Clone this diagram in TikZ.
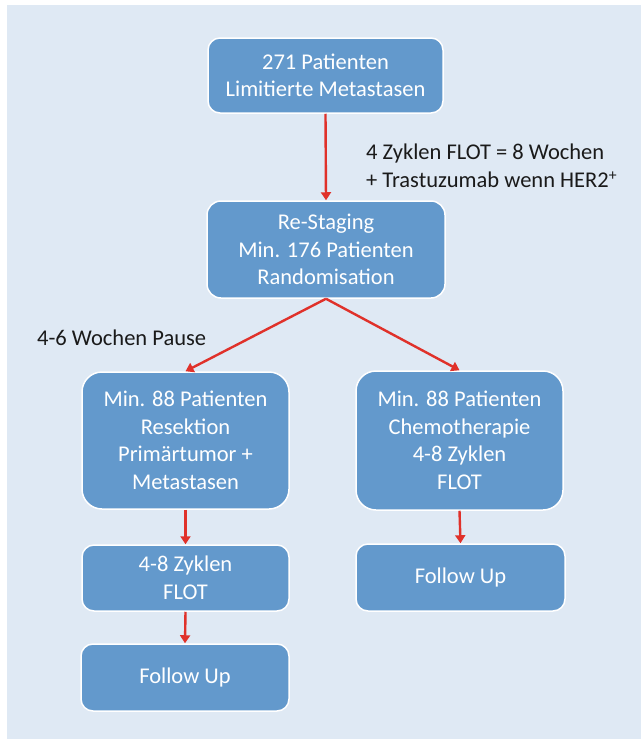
\documentclass[tikz,border=0pt]{standalone}
\usepackage{fontspec}
\setmainfont{Carlito}
\usetikzlibrary{arrows.meta}
\definecolor{panel}{HTML}{DFE9F4}
\definecolor{boxblue}{HTML}{6399CC}
\definecolor{arrred}{HTML}{E0312A}
\definecolor{labtext}{HTML}{1A1A1A}
\tikzset{
  flowbox/.style={draw=white, line width=1.5pt, fill=boxblue, text=white, align=center,
    inner sep=0pt, font=\fontsize{22.5}{27.5}\selectfont},
  flowarrow/.style={draw=arrred, line width=2.4pt, -{Triangle[length=8pt,width=10pt]}},
  lab/.style={text=labtext, align=left, anchor=west, inner sep=0pt, font=\fontsize{22.5}{28}\selectfont}
}
\begin{document}
\begin{tikzpicture}[x=1pt,y=-1pt]
\useasboundingbox (0,0) rectangle (641,739);
\fill[white] (0,0) rectangle (641,739);
\fill[panel] (7,5) rectangle (641,739);

\node[flowbox, rounded corners=12pt, minimum width=235pt, minimum height=75pt] (b1) at (325.5,75.5) {271 Patienten\\Limitierte Metastasen};
\node[flowbox, rounded corners=14pt, minimum width=238pt, minimum height=97pt] (b2) at (326,249.5) {Re-Staging\\Min. 176 Patienten\\Randomisation};
\node[flowbox, rounded corners=20pt, minimum width=207pt, minimum height=137pt] (b3) at (185.5,440.5) {Min. 88 Patienten\\Resektion\\Primärtumor +\\Metastasen};
\node[flowbox, rounded corners=20pt, minimum width=207pt, minimum height=139pt] (b4) at (459.5,440.5) {Min. 88 Patienten\\Chemotherapie\\4-8 Zyklen\\FLOT};
\node[flowbox, rounded corners=12pt, minimum width=207pt, minimum height=66pt] (b5) at (185.5,578) {4-8 Zyklen\\FLOT};
\node[flowbox, rounded corners=12pt, minimum width=209pt, minimum height=67pt] (b6) at (460.5,577.5) {Follow Up};
\node[flowbox, rounded corners=12pt, minimum width=208pt, minimum height=67pt] (b7) at (185,677.5) {Follow Up};

\node[lab] (l1) at (366,166) {4 Zyklen FLOT = 8 Wochen\\+ Trastuzumab wenn HER2\textsuperscript{+}};
\node[lab] (l2) at (37,338) {4-6 Wochen Pause};

\draw[flowarrow] (b1.south) -- (b2.north);
\draw[flowarrow] (b2.south) -- (b3.north);
\draw[flowarrow] (b2.south) -- (b4.north);
\draw[flowarrow] (b3.south) -- (b5.north);
\draw[flowarrow] (b5.south) -- (b7.north);
\draw[flowarrow] (b4.south) -- (b6.north);
\end{tikzpicture}
\end{document}
